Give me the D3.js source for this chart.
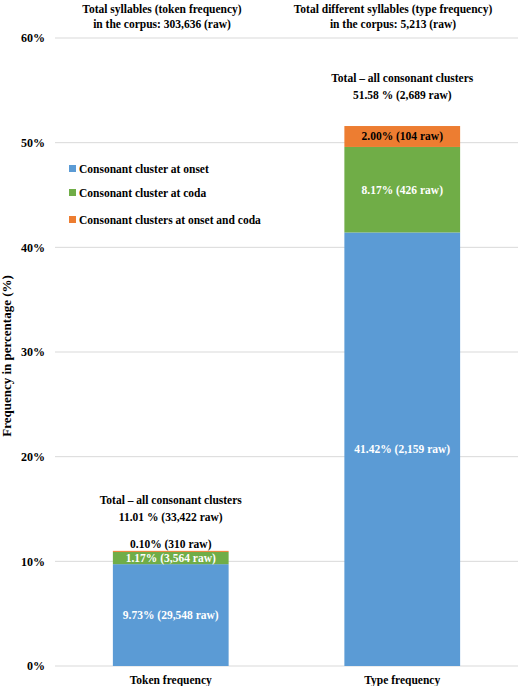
<!DOCTYPE html>
<html><head><meta charset="utf-8">
<script src="https://cdn.jsdelivr.net/npm/d3@7"></script>
<style>body{margin:0;background:#fff}</style>
</head><body><svg id="c" width="518" height="686"></svg>
<script>
const categories = ["Token frequency", "Type frequency"];
const seriesNames = ["Consonant cluster at onset", "Consonant cluster at coda", "Consonant clusters at onset and coda"];
const onset = [9.73, 41.42];
const coda = [1.17, 8.17];
const both = [0.10, 2.00];
const onsetLabels = ["9.73% (29,548 raw)", "41.42% (2,159 raw)"];
const codaLabels = ["1.17% (3,564 raw)", "8.17% (426 raw)"];
const bothLabels = ["0.10% (310 raw)", "2.00% (104 raw)"];
const totalLabels = [["Total \u2013 all consonant clusters", "11.01 % (33,422 raw)"], ["Total \u2013 all consonant clusters", "51.58 % (2,689 raw)"]];
const headers = [["Total syllables (token frequency)", "in the corpus: 303,636 (raw)"], ["Total different syllables (type frequency)", "in the corpus: 5,213 (raw)"]];
const yTicks = [0, 10, 20, 30, 40, 50, 60];
const colors = ["#5b9bd5", "#70ad47", "#ed7d31"];

(function () {
const FONT = "Liberation Serif";
const FS = 11.5;
const svg = d3.select("#c");
const mLeft = 55, mRight = 518, mTop = 38, mBottom = 666;
const x = d3.scaleBand().domain(categories).range([mLeft, mRight]).paddingInner(0.5).paddingOuter(0.25);
const y = d3.scaleLinear().domain([0, 60]).range([mBottom, mTop]);

svg.append("g").selectAll("line").data(yTicks).join("line")
  .attr("x1", mLeft).attr("x2", mRight).attr("y1", d => y(d)).attr("y2", d => y(d))
  .attr("stroke", "#d9d9d9").attr("stroke-width", 1);
const yAxis = d3.axisLeft(y).tickValues(yTicks).tickFormat(d => d + "%").tickSize(0).tickPadding(10);
const ga = svg.append("g").attr("transform", `translate(${mLeft},0)`).call(yAxis);
ga.attr("font-family", FONT);
ga.select(".domain").remove();
ga.selectAll("text").attr("font-size", 12).attr("fill", "#000").style("font-family", FONT).style("font-weight", "bold");

const rows = categories.map((c, i) => ({cat: c, onset: onset[i], coda: coda[i], both: both[i]}));
const stack = d3.stack().keys(["onset", "coda", "both"])(rows);
stack.forEach((layer, k) => {
  svg.append("g").selectAll("rect").data(layer).join("rect")
    .attr("x", d => x(d.data.cat)).attr("width", x.bandwidth())
    .attr("y", d => y(d[1])).attr("height", d => y(d[0]) - y(d[1]))
    .attr("fill", colors[k]);
});

const txt = (t, cx, cy, fill, size) => svg.append("text").attr("x", cx).attr("y", cy)
  .attr("text-anchor", "middle").attr("font-size", size || FS).attr("fill", fill || "#000")
  .style("font-family", FONT).style("font-weight", "bold").text(t);

categories.forEach((c, i) => {
  const cx = x(c) + x.bandwidth() / 2;
  txt(onsetLabels[i], cx, y(onset[i] / 2) + 4, "#fff");
  txt(codaLabels[i], cx, y(onset[i] + coda[i] / 2) + 4, "#fff");
  const tot = onset[i] + coda[i] + both[i];
  if (i === 0) txt(bothLabels[i], cx, y(tot) - 3, "#000");
  else txt(bothLabels[i], cx, y(onset[i] + coda[i] + both[i] / 2) + 4, "#000");
  const ty = i === 0 ? y(tot) - 47 : y(tot) - 44;
  txt(totalLabels[i][0], cx, ty, "#000");
  txt(totalLabels[i][1], cx, ty + 17, "#000");
  txt(c, cx, 684, "#000");
});
txt(headers[0][0], 162, 13); txt(headers[0][1], 162, 28);
txt(headers[1][0], 393, 13); txt(headers[1][1], 393, 28);

seriesNames.forEach((s, k) => {
  const ly = [169, 193, 220][k];
  svg.append("rect").attr("x", 69).attr("y", ly - 4).attr("width", 7).attr("height", 7).attr("fill", colors[k]);
  svg.append("text").attr("x", 79).attr("y", ly + 4).attr("font-size", FS)
    .style("font-family", FONT).style("font-weight", "bold").text(s);
});

svg.append("text").attr("transform", "translate(11,356) rotate(-90)").attr("text-anchor", "middle")
  .attr("font-size", 13).style("font-family", FONT).style("font-weight", "bold").text("Frequency in percentage (%)");
})();
</script></body></html>
